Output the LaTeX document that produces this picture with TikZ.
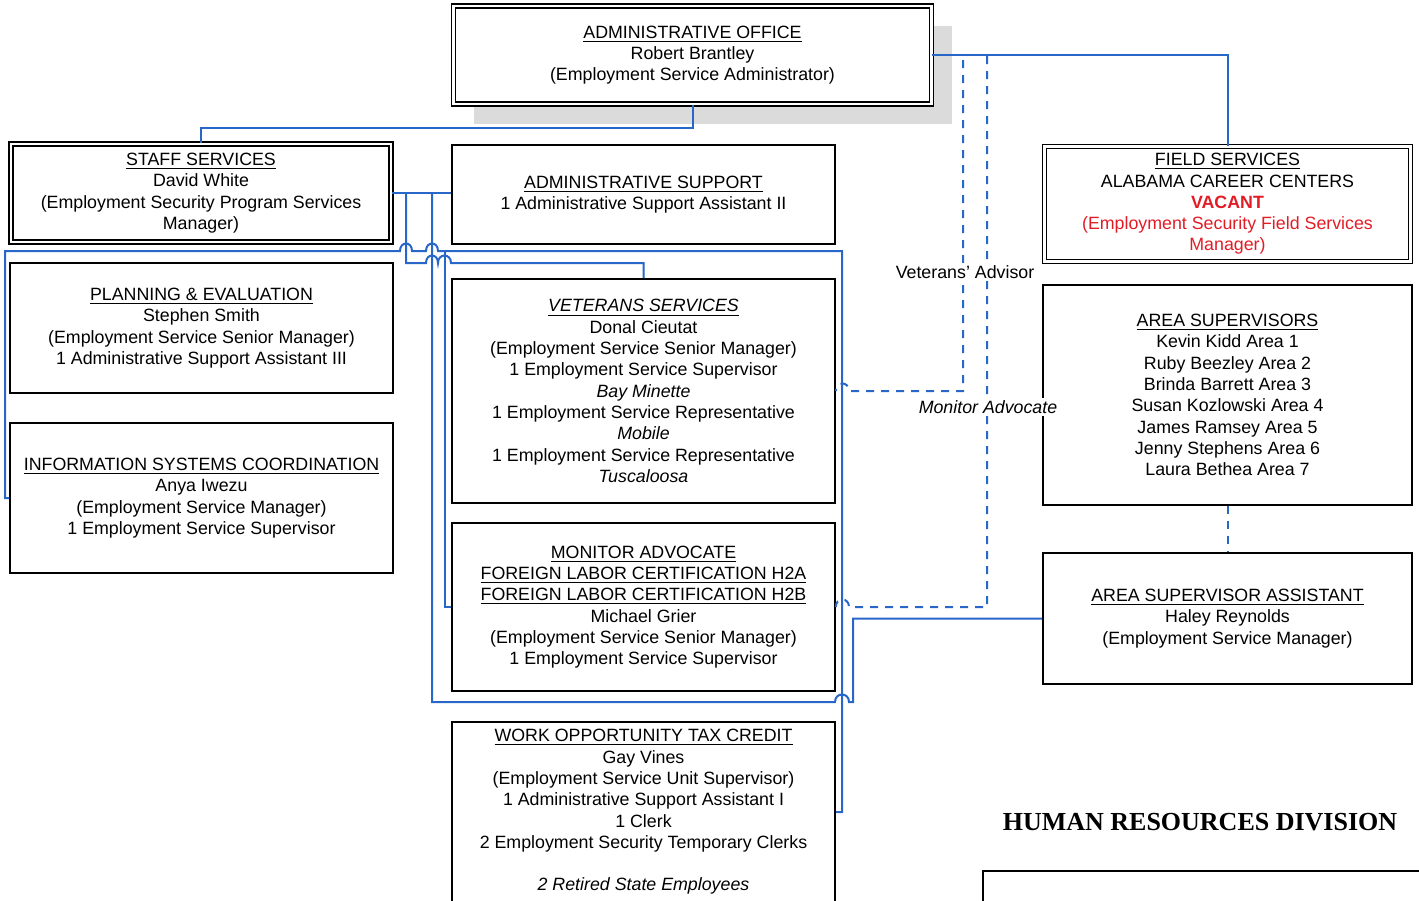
\documentclass[tikz,border=0pt]{standalone}
\usepackage{fontspec}
\setmainfont{Liberation Sans}
\newfontfamily\titlefont{Liberation Serif}
\usetikzlibrary{shadows}
\definecolor{linkblue}{RGB}{40,102,200}
\definecolor{vacantred}{RGB}{226,28,38}

\begin{document}
\begin{tikzpicture}[
  x=0.5pt, y=-0.5pt,
  box/.style     = {draw, line width=0.8pt, align=center, inner sep=0pt,
                    font=\fontsize{8.9}{10.65}\selectfont},
  headbox/.style = {box, double, double distance=1.4pt, line width=0.7pt},
  link/.style    = {draw=linkblue, line width=1pt},
  advice/.style  = {link, dash pattern=on 4pt off 3.5pt},
  tag/.style     = {fill=white, inner sep=1pt, font=\fontsize{8.9}{10.65}\selectfont},
]
\useasboundingbox (0,0) rectangle (1419,900);
% top level
\node[headbox, fill=white, minimum width=239pt, minimum height=49pt,
      general shadow={fill=black!14, shadow xshift=10pt, shadow yshift=-10pt}]
  (admin) at (692.5,55) {\underline{ADMINISTRATIVE OFFICE}\\Robert Brantley\\(Employment Service Administrator)};
% left column
\node[headbox, minimum width=190pt, minimum height=49pt] (staff) at (201,193)
  {\underline{STAFF SERVICES}\\David White\\(Employment Security Program Services\\Manager)};
\node[box, minimum width=191.5pt, minimum height=65pt] (plan) at (201.5,328)
  {\underline{PLANNING \& EVALUATION}\\Stephen Smith\\(Employment Service Senior Manager)\\1 Administrative Support Assistant III};
\node[box, minimum width=191.5pt, minimum height=75pt] (info) at (201.5,498)
  {\underline{INFORMATION SYSTEMS COORDINATION}\\Anya Iwezu\\(Employment Service Manager)\\1 Employment Service Supervisor};
% middle column
\node[box, minimum width=191.5pt, minimum height=49.5pt] (adsup) at (643.5,194.5)
  {\underline{ADMINISTRATIVE SUPPORT}\\1 Administrative Support Assistant II};
\node[box, minimum width=191.5pt, minimum height=112pt] (vets) at (643.5,391)
  {\underline{\textit{VETERANS SERVICES}}\\Donal Cieutat\\(Employment Service Senior Manager)\\1 Employment Service Supervisor\\\textit{Bay Minette}\\1 Employment Service Representative\\\textit{Mobile}\\1 Employment Service Representative\\\textit{Tuscaloosa}};
\node[box, minimum width=191.5pt, minimum height=84pt] (monitor) at (643.5,607)
  {\underline{MONITOR ADVOCATE}\\\underline{FOREIGN LABOR CERTIFICATION H2A}\\\underline{FOREIGN LABOR CERTIFICATION H2B}\\Michael Grier\\(Employment Service Senior Manager)\\1 Employment Service Supervisor};
\node[box, minimum width=191.5pt, minimum height=90pt] (wotc) at (643.5,812)
  {\underline{WORK OPPORTUNITY TAX CREDIT}\\Gay Vines\\(Employment Service Unit Supervisor)\\1 Administrative Support Assistant I\\1 Clerk\\2 Employment Security Temporary Clerks\\[10.65pt]\textit{2 Retired State Employees}};
% right column
\node[headbox, minimum width=183pt, minimum height=57.5pt] (field) at (1227.5,204)
  {\underline{FIELD SERVICES}\\ALABAMA CAREER CENTERS\\{\color{vacantred}\bfseries VACANT}\\{\color{vacantred}(Employment Security Field Services}\\{\color{vacantred}Manager)}};
\node[box, minimum width=184.5pt, minimum height=110pt] (areasup) at (1227.5,395)
  {\underline{AREA SUPERVISORS}\\Kevin Kidd Area 1\\Ruby Beezley Area 2\\Brinda Barrett Area 3\\Susan Kozlowski Area 4\\James Ramsey Area 5\\Jenny Stephens Area 6\\Laura Bethea Area 7};
\node[box, minimum width=184.5pt, minimum height=65.5pt] (asst) at (1227.5,618.5)
  {\underline{AREA SUPERVISOR ASSISTANT}\\Haley Reynolds\\(Employment Service Manager)};
% title and form frame
\node[font=\titlefont\bfseries\fontsize{13}{15}\selectfont] (hrdiv) at (1200,822) {HUMAN RESOURCES DIVISION};
\node[box, line width=1pt, anchor=north west, minimum width=229pt, minimum height=35pt] (form) at (982,870) {};
% solid lines
\coordinate (tapA) at (406,193);
\coordinate (tapB) at (432,193);
\coordinate (tapC) at (445,251);
\coordinate (leftbus) at (5,251);
\draw[link] (admin.east) -| (field.north);
\draw[link] (admin.south) -- ++(0,23) -| (staff.north);
\draw[link] (staff.east) -- (staff.east -| adsup.west);
\draw[link] (tapA) -- (406,263) -- (426,263)
  .. controls +(0,-10) and +(0,-10) .. (438,263)
  .. controls +(0,-10) and +(0,-10) .. (451,263) -| (vets.north);
\draw[link] (info.west) -| (leftbus) -- (400,251)
  .. controls +(0,-10) and +(0,-10) .. (412,251) -- (426,251)
  .. controls +(0,-10) and +(0,-10) .. (438,251) -- (842,251) |- (wotc.east);
\draw[link] (tapC) |- (monitor.west);
\draw[link] (tapB) -- (432,702) -- (835,702)
  .. controls +(0,-10) and +(0,-10) .. (849,702) -- (853,702) |- (asst.west);
% dashed lines
\coordinate (vetsline) at (963,60);
\coordinate (monline) at (987,56);
\draw[advice] (vetsline) |- (849,391) .. controls +(0,-10) and +(0,-10) .. (vets.east);
\draw[advice] (monline) |- (849,607) .. controls +(0,-10) and +(0,-10) .. (monitor.east);
\draw[advice] (areasup.south) -- (asst.north);
\node[tag] (vetstag) at (965,272) {Veterans' Advisor};
\node[tag, font=\fontsize{8.9}{10.65}\selectfont\itshape] (montag) at (988,407) {Monitor Advocate};
\end{tikzpicture}
\end{document}
